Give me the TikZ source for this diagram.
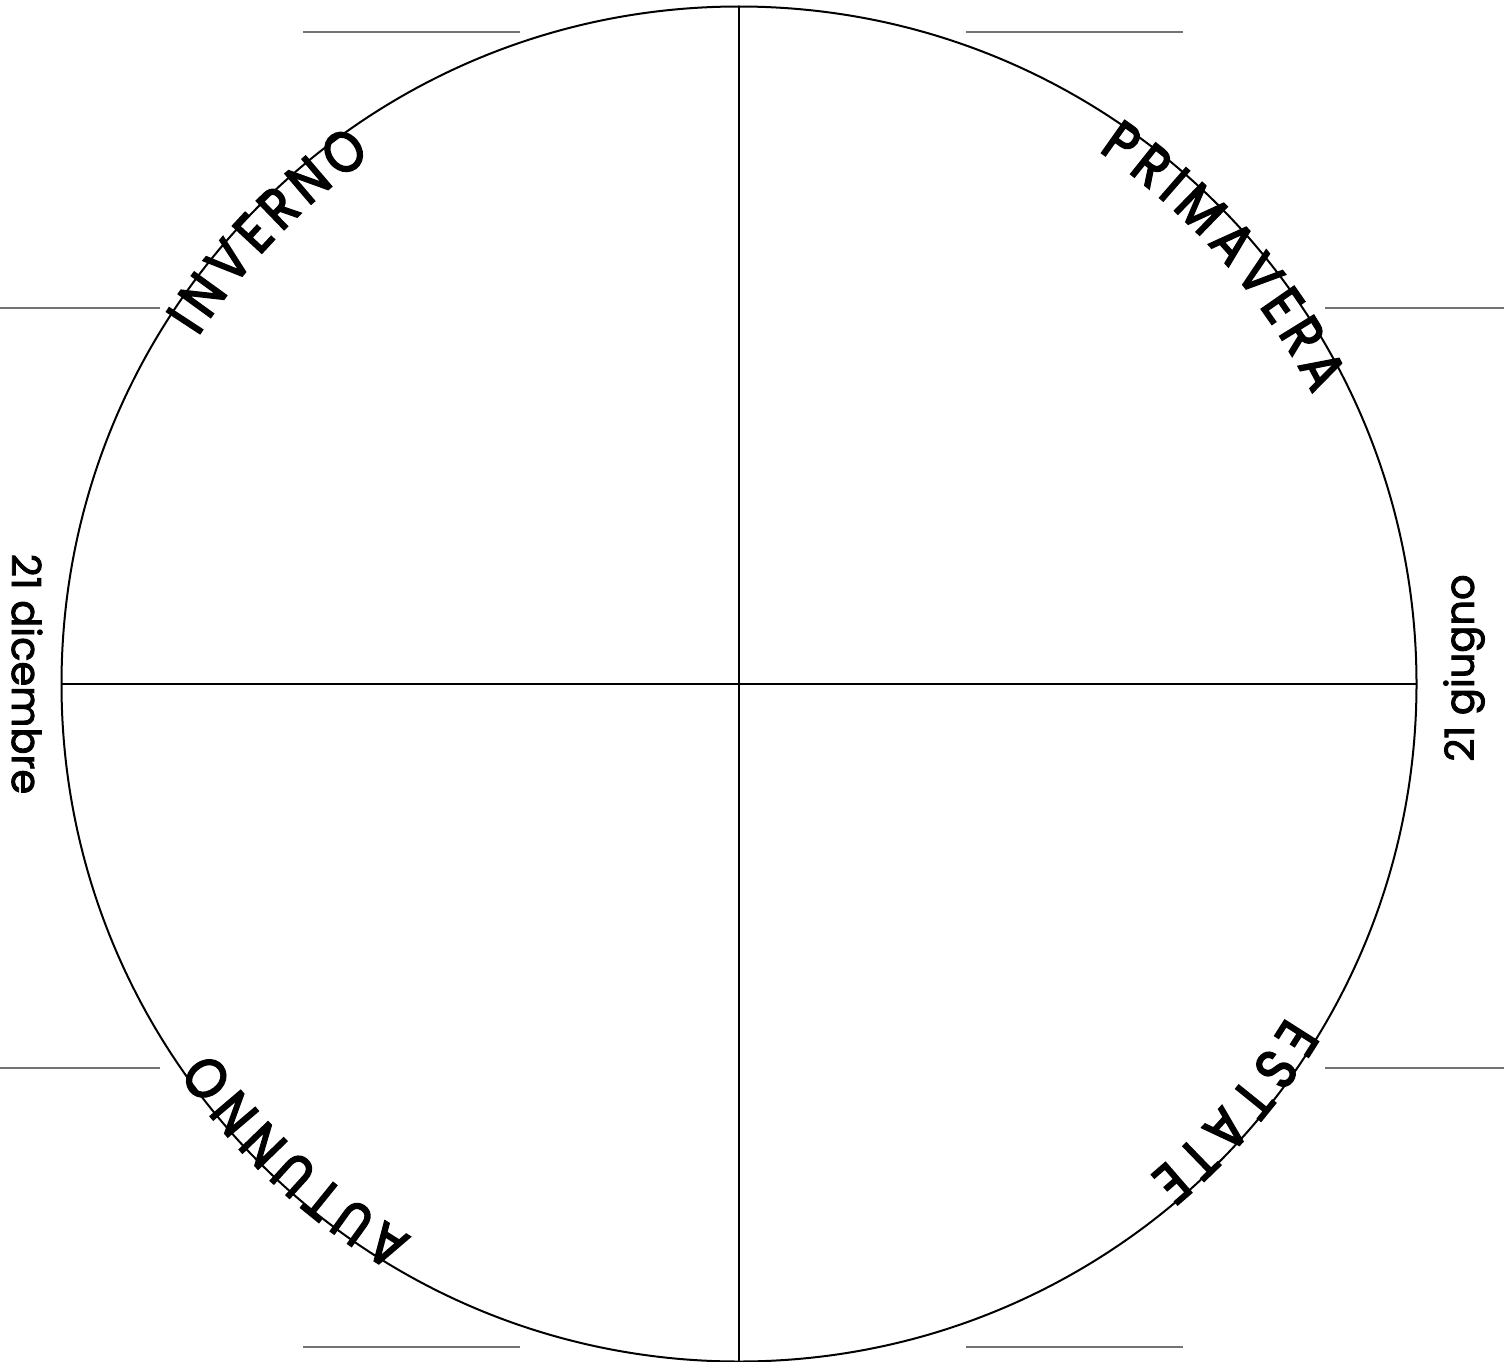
\documentclass[tikz,border=0pt]{standalone}
\usepackage{fontspec}
\usetikzlibrary{decorations.text}
\setmainfont{Poppins}
\newfontfamily\seasonfont{Poppins}[FakeBold=3.2,FakeStretch=0.86]
\newfontfamily\datefont{Poppins}[FakeBold=2.2]
\begin{document}
\begin{tikzpicture}[x=1pt,y=-1pt,
  rim/.style={line width=2pt,black},
  axis/.style={line width=1.8pt,black},
  tick/.style={line width=1.2pt,black!55},
  season/.style={decorate,decoration={text along path,text align=fit to path,
    text={|\seasonfont\fontsize{57}{57}\selectfont|#1}}},
  datelabel/.style={inner sep=0pt,anchor=center,font=\datefont\fontsize{40}{40}\selectfont}]
\useasboundingbox (0,0) rectangle (1504,1362);
\coordinate (C) at (739,684);
\coordinate (T) at (739,6.5);
\coordinate (B) at (739,1361.5);
\coordinate (L) at (61.5,684);
\coordinate (R) at (1416.5,684);
\draw[rim] (C) circle (677.5);
\draw[axis] (T) -- (B);
\draw[axis] (L) -- (R);
% short gray lines
\coordinate (a1) at (303,32);  \coordinate (a2) at (520,32);
\coordinate (b1) at (966,32);  \coordinate (b2) at (1183,32);
\coordinate (c1) at (0,308);   \coordinate (c2) at (160,308);
\coordinate (d1) at (1325,308);\coordinate (d2) at (1504,308);
\coordinate (e1) at (0,1068);  \coordinate (e2) at (160,1068);
\coordinate (f1) at (1325,1068);\coordinate (f2) at (1504,1068);
\coordinate (g1) at (303,1347);\coordinate (g2) at (520,1347);
\coordinate (h1) at (966,1347);\coordinate (h2) at (1183,1347);
\foreach \p in {a,b,c,d,e,f,g,h} \draw[tick] (\p1) -- (\p2);
% season words along the rim (clockwise on screen)
\path[season=INVERNO]   (C) ++(-147.3:643) arc[start angle=-147.3, end angle=-124.9, radius=643];
\path[season=PRIMAVERA] (C) ++(-56.0:643)  arc[start angle=-56.0,  end angle=-26.8,  radius=643];
\path[season=ESTATE]    (C) ++(31.3:641)   arc[start angle=31.3,   end angle=50.2,   radius=641];
\path[season=AUTUNNO]   (C) ++(120.6:643)  arc[start angle=120.6,  end angle=145.2,  radius=643];
\node[datelabel,rotate=-90] (dic) at (27,674) {21 dicembre};
\node[datelabel,rotate=90] (giu) at (1464,668) {21 giugno};
\end{tikzpicture}
\end{document}
